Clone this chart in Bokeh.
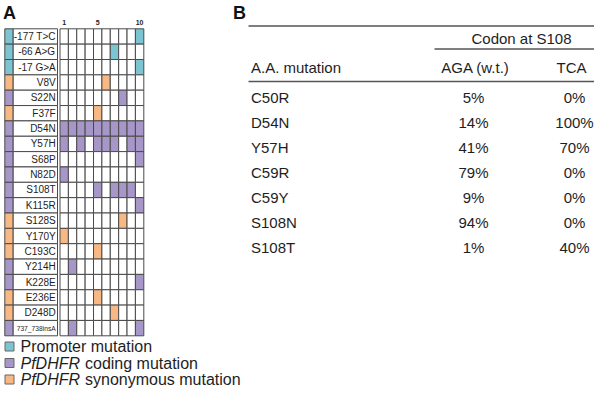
from bokeh.plotting import figure
from bokeh.models import Range1d
from bokeh.core.properties import value
from bokeh.embed import file_html
from bokeh.resources import INLINE

# ---------------- data: panel A ----------------
mutations = ["-177 T>C", "-66 A>G", "-17 G>A", "V8V", "S22N", "F37F", "D54N",
             "Y57H", "S68P", "N82D", "S108T", "K115R", "S128S", "Y170Y",
             "C193C", "Y214H", "K228E", "E236E", "D248D", "737_738insA"]
mutation_type = ["promoter", "promoter", "promoter", "synonymous", "coding",
                 "synonymous", "coding", "coding", "coding", "coding", "coding",
                 "coding", "synonymous", "synonymous", "synonymous", "coding",
                 "coding", "synonymous", "synonymous", "coding"]
mutated_isolates = [[10], [7], [10], [6], [8], [5],
                    [1, 2, 3, 4, 5, 6, 7, 8, 9, 10],
                    [1, 3, 5, 6, 7, 9, 10], [10], [1], [5, 7, 8, 9], [10],
                    [8], [1], [5], [2], [10], [5], [7], [2, 10]]
isolates = list(range(1, 11))
isolate_tick_positions = [1, 5, 10]
isolate_tick_labels = ["1", "5", "10"]
legend_types = ["promoter", "coding", "synonymous"]
legend_italic = ["", "PfDHFR", "PfDHFR"]
legend_text = ["Promoter mutation", "coding mutation", "synonymous mutation"]

# ---------------- data: panel B ----------------
table_mutations = ["C50R", "D54N", "Y57H", "C59R", "C59Y", "S108N", "S108T"]
aga_values = [5, 14, 41, 79, 9, 94, 1]
tca_values = [0, 100, 70, 0, 0, 0, 40]
group_header = "Codon at S108"
column_headers = ["A.A. mutation", "AGA (w.t.)", "TCA"]

# ---------------- styles / layout ----------------
COLORS = {"promoter": "#7cc4d2", "coding": "#a797c8", "synonymous": "#f7b883"}
FONT = value("Liberation Sans")
LINE = "#4a4a4a"
TXT = "#1e1e1e"

p = figure(width=594, height=388, x_range=Range1d(0, 594), y_range=Range1d(388, 0),
           output_backend="svg", toolbar_location=None, min_border=0)
p.axis.visible = False
p.grid.visible = False
p.outline_line_color = None

STRIP_L, STRIP_R = 4.3, 12.7
LABEL_R = 57.0
GRID_L, GRID_R = 59.5, 143.3
TOP, ROW_H = 28.3, 15.35
n = len(mutations)
cw = (GRID_R - GRID_L) / len(isolates)
tops = [TOP + i * ROW_H for i in range(n)]
bots = [t + ROW_H for t in tops]
mids = [t + ROW_H / 2 for t in tops]

# type strip
p.quad(left=STRIP_L, right=STRIP_R, top=tops, bottom=bots,
       fill_color=[COLORS[t] for t in mutation_type], line_color=LINE, line_width=1)
# label boxes
p.quad(left=STRIP_R, right=LABEL_R, top=tops, bottom=bots,
       fill_color="white", line_color=LINE, line_width=1)
# isolate cells
cl, cr, ct, cb, cf = [], [], [], [], []
for i in range(n):
    for j in isolates:
        cl.append(GRID_L + (j - 1) * cw)
        cr.append(GRID_L + j * cw)
        ct.append(tops[i])
        cb.append(bots[i])
        cf.append(COLORS[mutation_type[i]] if j in mutated_isolates[i] else "white")
p.quad(left=cl, right=cr, top=ct, bottom=cb, fill_color=cf, line_color=LINE, line_width=1)

# row labels
p.text(x=[LABEL_R - 1.8] * (n - 1), y=mids[:-1], text=mutations[:-1], text_align="right",
       text_baseline="middle", text_font=FONT, text_font_size="10px", text_color=TXT)
p.text(x=[LABEL_R - 1.8], y=[mids[-1]], text=[mutations[-1]], text_align="right",
       text_baseline="middle", text_font=FONT, text_font_size="6.7px", text_color=TXT)
# isolate numbers
p.text(x=[GRID_L + (k - 0.5) * cw for k in isolate_tick_positions], y=[22] * 3,
       text=isolate_tick_labels, text_align="center", text_baseline="middle",
       text_font=FONT, text_font_size="7px", text_font_style="bold", text_color=TXT)

# panel letters
p.text(x=[2.5, 232.5], y=[2, 2], text=["A", "B"], text_align="left", text_baseline="top",
       text_font=FONT, text_font_size="18px", text_font_style="bold", text_color="#111")

# legend
LEG_Y0, LEG_DY = 346, 16.5
leg_y = [LEG_Y0 + k * LEG_DY for k in range(len(legend_types))]
p.quad(left=4.5, right=13.5, top=[y - 4.5 for y in leg_y], bottom=[y + 4.5 for y in leg_y],
       fill_color=[COLORS[t] for t in legend_types], line_color="#666", line_width=1)
ital_y = [y for y, s in zip(leg_y, legend_italic) if s]
ital_s = [s for s in legend_italic if s]
p.text(x=[20] * len(ital_s), y=ital_y, text=ital_s, text_align="left", text_baseline="middle",
       text_font=FONT, text_font_size="16px", text_font_style="italic", text_color=TXT)
p.text(x=[20 if not s else 84.5 for s in legend_italic], y=leg_y, text=legend_text,
       text_align="left", text_baseline="middle", text_font=FONT, text_font_size="16px",
       text_color=TXT)

# ---------------- table ----------------
T_L, T_R = 248, 608
GROUP_L = 434
COL_AA, COL_AGA, COL_TCA = 250.5, 475, 571
Y_TOP_LINE, Y_GROUP, Y_GROUP_LINE, Y_HEAD, Y_HEAD_LINE = 25.5, 37.5, 48.5, 67, 81
Y_ROW0, ROW_DY = 96.5, 25
p.segment(x0=[T_L, GROUP_L, T_L], x1=[T_R, T_R, T_R],
          y0=[Y_TOP_LINE, Y_GROUP_LINE, Y_HEAD_LINE],
          y1=[Y_TOP_LINE, Y_GROUP_LINE, Y_HEAD_LINE], line_color="#555", line_width=1.5)
TS = "15px"
p.text(x=[(GROUP_L + T_R) / 2], y=[Y_GROUP], text=[group_header], text_align="center",
       text_baseline="middle", text_font=FONT, text_font_size=TS, text_color=TXT)
p.text(x=[COL_AA], y=[Y_HEAD], text=[column_headers[0]], text_align="left",
       text_baseline="middle", text_font=FONT, text_font_size=TS, text_color=TXT)
p.text(x=[COL_AGA, COL_TCA], y=[Y_HEAD, Y_HEAD], text=column_headers[1:], text_align="center",
       text_baseline="middle", text_font=FONT, text_font_size=TS, text_color=TXT)
row_y = [Y_ROW0 + k * ROW_DY for k in range(len(table_mutations))]
p.text(x=[COL_AA] * len(row_y), y=row_y, text=table_mutations, text_align="left",
       text_baseline="middle", text_font=FONT, text_font_size=TS, text_color=TXT)
p.text(x=[COL_AGA - 2] * len(row_y), y=row_y, text=[f"{v}%" for v in aga_values],
       text_align="center", text_baseline="middle", text_font=FONT, text_font_size=TS,
       text_color=TXT)
p.text(x=[COL_TCA + 3] * len(row_y), y=row_y, text=[f"{v}%" for v in tca_values],
       text_align="center", text_baseline="middle", text_font=FONT, text_font_size=TS,
       text_color=TXT)

open("out.html", "w").write(file_html(p, INLINE))
